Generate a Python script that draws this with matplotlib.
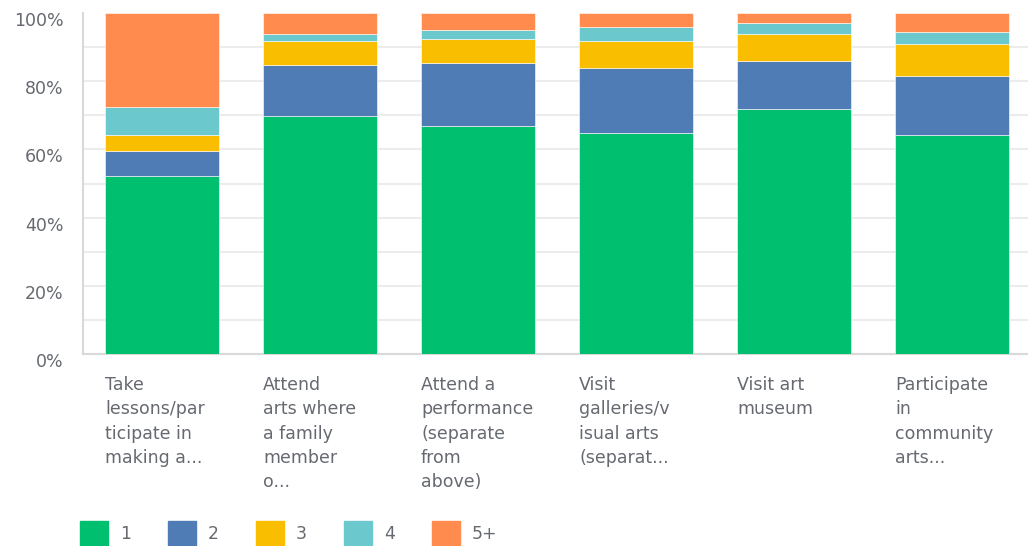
import matplotlib.pyplot as plt
from matplotlib.patches import Rectangle
from matplotlib.transforms import ScaledTranslation

categories = [
    "Take\nlessons/par\nticipate in\nmaking a...",
    "Attend\narts where\na family\nmember\no...",
    "Attend a\nperformance\n(separate\nfrom\nabove)",
    "Visit\ngalleries/v\nisual arts\n(separat...",
    "Visit art\nmuseum",
    "Participate\nin\ncommunity\narts...",
]
series_labels = ["1", "2", "3", "4", "5+"]
s1 = [52.2, 69.8, 66.9, 64.8, 71.8, 64.2]
s2 = [7.3, 15.0, 18.4, 19.1, 14.1, 17.3]
s3 = [4.7, 7.0, 7.1, 7.9, 7.9, 9.4]
s4 = [8.2, 2.0, 2.6, 4.1, 3.2, 3.5]
s5 = [27.6, 6.2, 5.0, 4.1, 3.0, 5.6]
colors = ["#00BF6F", "#507CB6", "#F9BE00", "#6BC8CD", "#FF8B4F"]

text_color = "#666a70"

fig = plt.figure(figsize=(10.28, 5.46), dpi=100)
ax = fig.add_axes([83 / 1028, 192 / 546, 948 / 1028, 341 / 546])

x = list(range(len(categories)))
bottom = [0.0] * len(categories)
for vals, col in zip([s1, s2, s3, s4, s5], colors):
    ax.bar(x, vals, width=0.72, bottom=bottom, color=col, edgecolor="white",
           linewidth=0.4, zorder=3)
    bottom = [b + v for b, v in zip(bottom, vals)]

ax.set_xlim(-0.5, len(categories) - 0.5)
ax.set_ylim(0, 100)
ax.set_yticks(range(0, 101, 20))
ax.set_yticklabels([f"{v}%" for v in range(0, 101, 20)])
ax.set_yticks(range(10, 100, 20), minor=True)
ax.grid(axis="y", which="both", color="#ececec", linewidth=1.5, zorder=0)
ax.get_ygridlines()[-1].set_visible(False)
ax.tick_params(axis="y", which="both", length=0, pad=14, labelsize=12.5,
               labelcolor=text_color)
# the labels sit a little below their gridlines in the original
shift = ScaledTranslation(0, -6 / 100, fig.dpi_scale_trans)
for lab in ax.get_yticklabels():
    lab.set_transform(lab.get_transform() + shift)
ax.set_xticks([])
for side in ["top", "right"]:
    ax.spines[side].set_visible(False)
for side in ["left", "bottom"]:
    ax.spines[side].set_color("#d9d9d9")
    ax.spines[side].set_linewidth(1.5)

# category labels, left aligned under each bar
for xi, label in zip(x, categories):
    ax.text(xi - 0.36, -0.065, label, transform=ax.get_xaxis_transform(),
            ha="left", va="top", fontsize=12.5, color=text_color,
            linespacing=1.45)

# legend along the bottom edge
for i, (lab, col) in enumerate(zip(series_labels, colors)):
    x0 = (80 + i * 88) / 1028
    fig.add_artist(Rectangle((x0, -0.01), 28 / 1028, 30 / 546,
                             transform=fig.transFigure, color=col,
                             clip_on=False))
    fig.text(x0 + 40 / 1028, 12 / 546, lab, ha="left", va="center",
             fontsize=12.5, color=text_color)

fig.savefig("out.png", dpi=100)
